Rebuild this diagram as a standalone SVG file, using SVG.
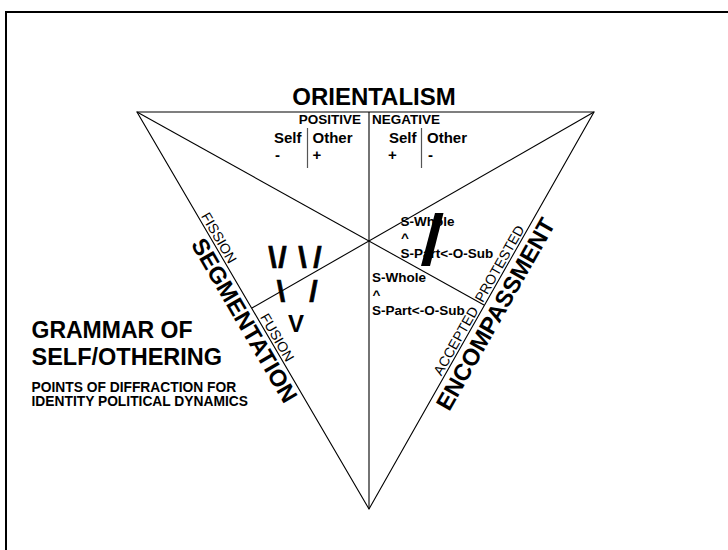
<svg xmlns="http://www.w3.org/2000/svg" width="728" height="550" viewBox="0 0 728 550">
  <style>
    text { font-family: "Liberation Sans", Arial, sans-serif; fill: #000; }
    .b { font-weight: bold; }
    .edge { stroke: #000; stroke-width: 1.1; fill: none; }
    .sep { stroke: #555; stroke-width: 1.2; }
    .frame { stroke: #000; stroke-width: 2; fill: none; }
    .side { font-size: 14px; }
    .pole { font-size: 23.5px; font-weight: bold; }
    .sw { font-size: 13.5px; font-weight: bold; }
    .mark { font-size: 30px; font-weight: bold; stroke: #000; stroke-width: 0.7; }
  </style>
  <rect width="728" height="550" fill="#fff"/>
  <path class="frame" d="M6,550 V12 H728"/>

  <!-- triangle and its two medians -->
  <g id="connectors">
    <path class="edge" d="M137,112 H594 L369,509 Z"/>
    <line class="edge" x1="369" y1="112" x2="369" y2="509"/>
    <line class="edge" x1="137" y1="112" x2="484" y2="305"/>
    <line class="edge" x1="594" y1="112" x2="252" y2="308"/>
  </g>

  <g id="orientalism">
    <text class="b" x="374" y="105" font-size="24" text-anchor="middle">ORIENTALISM</text>
    <text class="b" x="361" y="124" font-size="13.5" text-anchor="end">POSITIVE</text>
    <text class="b" x="372" y="124" font-size="13.5">NEGATIVE</text>
    <g class="b" font-size="15">
      <text x="274" y="143">Self</text>
      <text x="312.5" y="143">Other</text>
      <text x="275" y="160">-</text>
      <text x="312.5" y="160">+</text>
      <text x="389" y="143">Self</text>
      <text x="427" y="143">Other</text>
      <text x="388" y="160">+</text>
      <text x="428" y="160">-</text>
    </g>
    <line class="sep" x1="307.5" y1="128" x2="307.5" y2="168"/>
    <line class="sep" x1="421.5" y1="128" x2="421.5" y2="168"/>
  </g>

  <g id="segmentation">
    <g transform="translate(137,112) rotate(59.7)">
      <text class="side" x="122" y="-2.5">FISSION</text>
      <text class="side" x="239" y="-2.5">FUSION</text>
      <text class="pole" x="234" y="20.5" text-anchor="middle">SEGMENTATION</text>
    </g>
  </g>

  <g id="encompassment">
    <g transform="translate(369,509) rotate(-60.45)">
      <text class="side" x="151" y="-2.5">ACCEPTED</text>
      <text class="side" x="235" y="-2.5">PROTESTED</text>
      <text class="pole" x="232" y="22" font-size="25" text-anchor="middle">ENCOMPASSMENT</text>
    </g>
  </g>

  <g id="fission-fusion-marks">
    <text class="mark" y="268" x="272.5 282.5 302.5 317.5" text-anchor="middle">\/\/</text>
    <text class="mark" y="302" x="281 313.5" text-anchor="middle">\/</text>
    <text class="b" font-size="24" x="296" y="332" text-anchor="middle">V</text>
  </g>

  <g id="hierarchy-upper">
    <text class="sw" x="400.5" y="225.7">S-Whole</text>
    <text class="sw" x="401" y="242">^</text>
    <text class="sw" x="400.5" y="257.7">S-Part&lt;-O-Sub</text>
    <polygon points="435,213 443.5,213 430,266 421,266" fill="#000"/>
  </g>

  <g id="hierarchy-lower">
    <text class="sw" x="372" y="282.3">S-Whole</text>
    <text class="sw" x="372.5" y="298.7">^</text>
    <text class="sw" x="372" y="315">S-Part&lt;-O-Sub</text>
  </g>

  <g id="title">
    <text class="b" x="31.5" y="338.3" font-size="23">GRAMMAR OF</text>
    <text class="b" x="31.5" y="365" font-size="23.5">SELF/OTHERING</text>
    <text class="b" x="31.5" y="391.7" font-size="13.8">POINTS OF DIFFRACTION FOR</text>
    <text class="b" x="31.5" y="406" font-size="13.8">IDENTITY POLITICAL DYNAMICS</text>
  </g>
</svg>
